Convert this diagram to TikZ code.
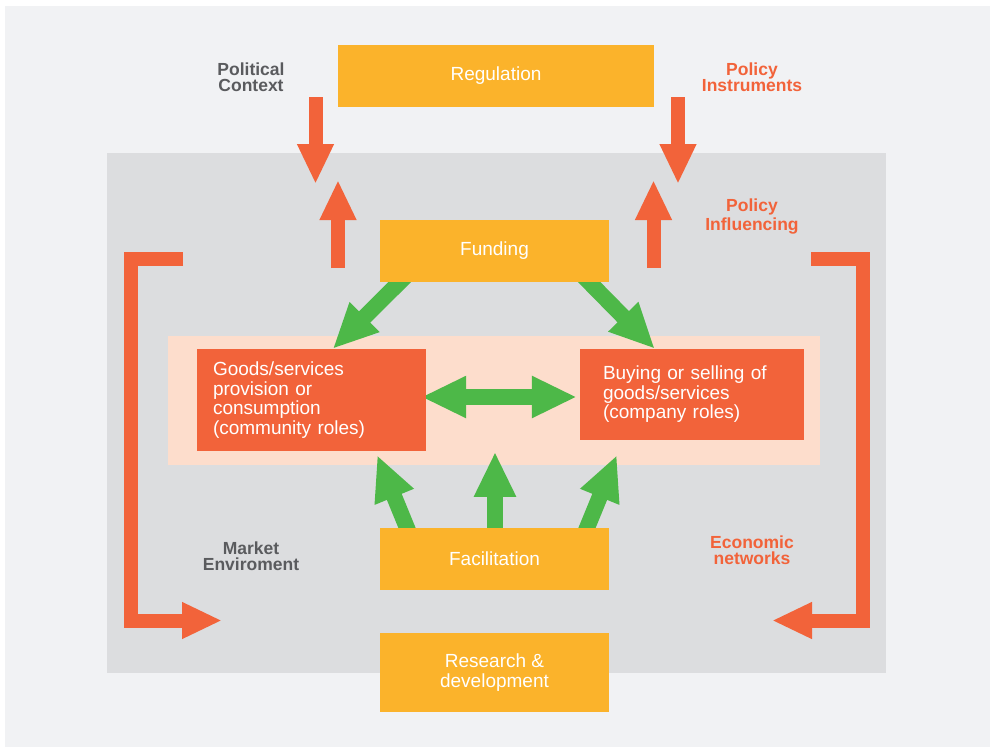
\documentclass[tikz,border=0pt]{standalone}
\usepackage{fontspec}
\setmainfont{Liberation Sans}
\usepackage{xcolor}
\usetikzlibrary{arrows.meta,calc,backgrounds}
\definecolor{panelgray}{HTML}{F1F2F4}
\definecolor{innergray}{HTML}{DCDDDF}
\definecolor{peach}{HTML}{FDDDCC}
\definecolor{boxorange}{HTML}{F2633A}
\definecolor{boxyellow}{HTML}{FBB32B}
\definecolor{arrowgreen}{HTML}{4DB848}
\definecolor{textgray}{HTML}{5A5B5E}
\tikzset{
    yellow-box/.style = {fill=boxyellow, text=white, inner sep=0pt, align=center, font=\fontsize{19}{19.5}\selectfont},
    orange-box/.style = {fill=boxorange, text=white, inner sep=0pt, align=left, font=\fontsize{19}{19.5}\selectfont},
    gray-label/.style = {text=textgray, align=center, inner sep=0pt, font=\bfseries\fontsize{17.5}{16}\selectfont},
    orange-label/.style = {gray-label, text=boxorange},
    green-arrow/.style = {draw=arrowgreen, line width=16pt, -{Triangle[length=45pt, width=39pt]}},
    red-arrow/.style = {draw=boxorange, line width=14pt, -{Triangle[length=40pt, width=34pt]}},
}

\begin{document}
\begin{tikzpicture}[x=1pt, y=-1pt]
\useasboundingbox (0,0) rectangle (990,747);

% boxes
\node[yellow-box, minimum width=316pt, minimum height=62pt] (regulation) at (496,76) {Regulation};
\node[yellow-box, minimum width=229pt, minimum height=62pt] (funding) at (494.5,251) {Funding};
\node[yellow-box, minimum width=229pt, minimum height=62pt] (facilitation) at (494.5,559) {Facilitation};
\node[yellow-box, minimum width=229pt, minimum height=79pt] (research) at (494.5,672.5) {Research \&\\development};
\node[orange-box, text width=197pt, inner xsep=16pt, minimum height=102pt] (goods) at (311.5,400)
    {Goods/services\\provision or\\consumption\\(community roles)};
\node[orange-box, text width=178pt, inner xsep=23pt, minimum height=91pt] (buying) at (692,394.5)
    {Buying or selling of\\goods/services\\(company roles)};

% labels
\node[gray-label] (political) at (251,77) {Political\\Context};
\node[orange-label] (instruments) at (752,77) {Policy\\Instruments};
\node[orange-label, font=\bfseries\fontsize{17.5}{19}\selectfont] (influencing) at (752,217) {Policy\\Influencing};
\node[gray-label] (market) at (251,556) {Market\\Enviroment};
\node[orange-label] (economic) at (752,550) {Economic\\networks};

% free ends of the red arrows
\coordinate (pol-top) at (315.5,97);
\coordinate (pol-tip) at (315.5,184);
\coordinate (inf-left-foot) at (338,268);
\coordinate (inf-left-tip) at (338,180);
\coordinate (inf-right-foot) at (653.5,268);
\coordinate (inf-right-tip) at (653.5,180);
\coordinate (ins-top) at (678,97);
\coordinate (ins-tip) at (678,184);
\coordinate (market-start) at (183,258.5);
\coordinate (market-tip) at (222,620.5);
\coordinate (economic-start) at (811,258.5);
\coordinate (economic-tip) at (772,620.5);

\begin{scope}[on background layer]
\fill[white] (0,0) rectangle (990,747);
\fill[panelgray] (5,6) rectangle (990,747);
\fill[innergray] (107,153) rectangle (886,673);
\fill[peach] (168,336) rectangle (820,465);

% policy arrows
\draw[red-arrow] (pol-top) -- (pol-tip);
\draw[red-arrow] (inf-left-foot) -- (inf-left-tip);
\draw[red-arrow] (inf-right-foot) -- (inf-right-tip);
\draw[red-arrow] (ins-top) -- (ins-tip);
\draw[red-arrow] (market-start) -- ++(-52,0) |- (market-tip);
\draw[red-arrow] (economic-start) -- ++(51.5,0) |- (economic-tip);

% green arrows
\draw[green-arrow] ($(funding.south)+(-83,-12)$) -- ($(goods.north west)+(136,0)$);
\draw[green-arrow] ($(funding.south)+(83,-12)$) -- ($(buying.north west)+(75,0)$);
\draw[green-arrow, {Triangle[length=45pt, width=39pt]}-{Triangle[length=45pt, width=39pt]}]
    ($(goods.east)+(-5,-3)$) -- ($(buying.west)+(-3,2.5)$);
\draw[green-arrow] ($(facilitation.north)+(-81.8,14)$) -- ($(goods.south east)+(-49,4)$);
\draw[green-arrow] ($(facilitation.north)+(0.5,10)$) -- ($(facilitation.north)+(0.5,-76)$);
\draw[green-arrow] ($(facilitation.north)+(86.8,14)$) -- ($(buying.south west)+(37,15)$);
\end{scope}
\end{tikzpicture}
\end{document}
